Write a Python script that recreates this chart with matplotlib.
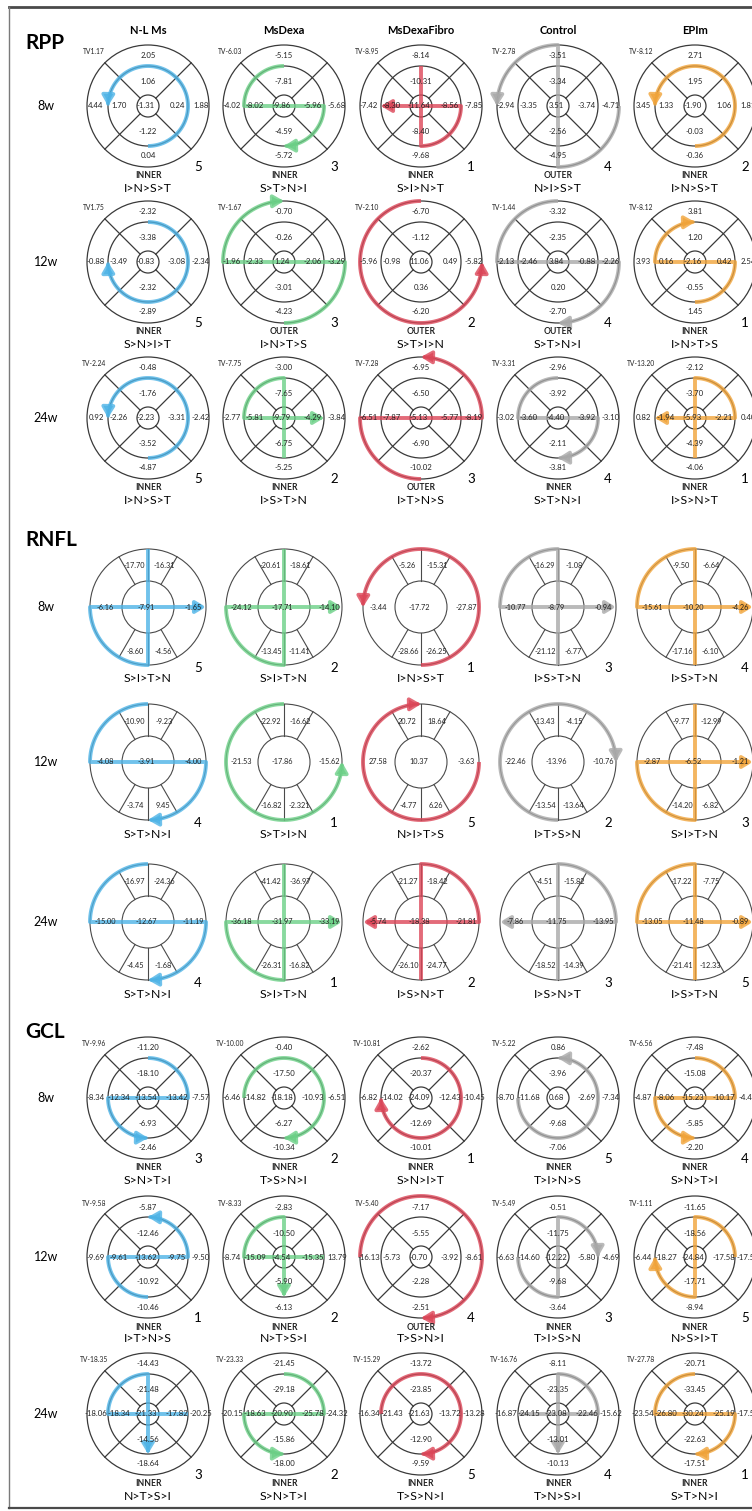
import numpy as np
import matplotlib.pyplot as plt
from matplotlib.patches import Circle, FancyArrowPatch
from matplotlib.path import Path

plt.rcParams['font.family'] = ['Lato', 'DejaVu Sans']

groups = ['N-L Ms', 'MsDexa', 'MsDexaFibro', 'Control', 'EPIm']
weeks = ['8w', '12w', '24w']

# RPP / GCL values per diagram:
# [S outer, S inner, T outer, T inner, center, N inner, N outer, I inner, I outer]
rpp_tv = [[1.17, -6.03, -8.95, -2.78, -8.12],
          [1.75, -1.67, -2.10, -1.44, -8.12],
          [-2.24, -7.75, -7.28, -3.31, -13.20]]
rpp_vals = [
    [[2.05, 1.06, 4.44, 1.70, -1.31, 0.24, 1.88, -1.22, 0.04],
     [-5.15, -7.81, -4.02, -8.02, -9.86, -5.96, -5.68, -4.59, -5.72],
     [-8.14, -10.31, -7.42, -8.30, -11.64, -8.56, -7.85, -8.40, -9.68],
     [-3.51, -3.34, -2.94, -3.35, 3.51, -3.74, -4.71, -2.56, -4.95],
     [2.71, 1.95, 3.45, 1.33, -1.90, 1.06, 1.81, -0.03, -0.36]],
    [[-2.32, -3.38, -0.88, -3.49, -0.83, -3.08, -2.34, -2.32, -2.89],
     [-0.70, -0.26, -1.96, -2.33, 1.24, -2.06, -3.29, -3.01, -4.23],
     [-6.70, -1.12, -5.96, -0.98, 11.06, 0.49, -5.82, 0.36, -6.20],
     [-3.32, -2.35, -2.13, -2.46, 3.84, -0.88, -2.26, 0.20, -2.70],
     [3.81, 1.20, 3.93, 0.16, -2.16, 0.42, 2.54, -0.55, 1.45]],
    [[-0.48, -1.76, 0.92, -2.26, -2.23, -3.31, -2.42, -3.52, -4.87],
     [-3.00, -7.65, -2.77, -5.81, -9.79, -4.29, -3.84, -6.75, -5.25],
     [-6.95, -6.50, -6.51, -7.87, -5.13, -5.77, -8.19, -6.90, -10.02],
     [-2.96, -3.92, -3.02, -3.60, -4.40, -3.92, -3.10, -2.11, -3.81],
     [-2.12, -3.70, 0.82, -1.94, -5.93, -2.21, 0.40, -4.39, -4.06]],
]
rpp_ring = [['INNER', 'INNER', 'INNER', 'OUTER', 'INNER'],
            ['INNER', 'OUTER', 'OUTER', 'OUTER', 'INNER'],
            ['INNER', 'INNER', 'OUTER', 'INNER', 'INNER']]
rpp_order = [['I>N>S>T', 'S>T>N>I', 'S>I>N>T', 'N>I>S>T', 'I>N>S>T'],
             ['S>N>I>T', 'I>N>T>S', 'S>T>I>N', 'S>T>N>I', 'I>N>T>S'],
             ['I>N>S>T', 'I>S>T>N', 'I>T>N>S', 'S>T>N>I', 'I>S>N>T']]
rpp_rank = [[5, 3, 1, 4, 2], [5, 3, 2, 4, 1], [5, 2, 3, 4, 1]]

# RNFL values per diagram:
# [S temporal, S nasal, T, center, N, I temporal, I nasal]
rnfl_vals = [
    [[-17.70, -16.31, -6.16, -7.91, -1.65, -8.60, -4.56],
     [-20.61, -18.61, -24.12, -17.71, -14.10, -13.45, -11.41],
     [-5.26, -15.31, -3.44, -17.72, -27.87, -28.66, -26.25],
     [-16.29, -1.08, -10.77, -8.79, -0.94, -21.12, -6.77],
     [-9.50, -6.64, -15.61, -10.20, -4.26, -17.16, -6.10]],
    [[-10.90, -9.23, -4.08, -3.91, -4.00, -3.74, 9.45],
     [-22.92, -16.62, -21.53, -17.86, -15.62, -16.82, -2.321],
     [20.72, 18.64, 27.58, 10.37, -3.63, -4.77, 6.26],
     [-13.43, -4.15, -22.46, -13.96, -10.76, -13.54, -13.64],
     [-9.77, -12.99, -2.87, -6.52, -1.21, -14.20, -6.82]],
    [[-16.97, -24.36, -15.00, -12.67, -11.19, -4.45, -1.68],
     [-41.42, -36.97, -36.18, -31.97, -33.19, -26.31, -16.82],
     [-21.27, -18.42, -5.74, -18.38, -21.81, -26.10, -24.77],
     [-4.51, -15.82, -7.86, -11.75, -13.95, -18.52, -14.39],
     [-17.22, -7.75, -13.05, -11.48, -0.89, -21.41, -12.33]],
]
rnfl_order = [['S>I>T>N', 'S>I>T>N', 'I>N>S>T', 'I>S>T>N', 'I>S>T>N'],
              ['S>T>N>I', 'S>T>I>N', 'N>I>T>S', 'I>T>S>N', 'S>I>T>N'],
              ['S>T>N>I', 'S>I>T>N', 'I>S>N>T', 'I>S>N>T', 'I>S>T>N']]
rnfl_rank = [[5, 2, 1, 3, 4], [4, 1, 5, 2, 3], [4, 1, 2, 3, 5]]

gcl_tv = [[-9.96, -10.00, -10.81, -5.22, -6.56],
          [-9.58, -8.33, -5.40, -5.49, -1.11],
          [-18.35, -23.33, -15.29, -16.76, -27.78]]
gcl_vals = [
    [[-11.20, -18.10, -8.34, -12.34, -13.54, -13.42, -7.57, -6.93, -2.46],
     [-0.40, -17.50, -6.46, -14.82, -18.18, -10.93, -6.51, -6.27, -10.34],
     [-2.62, -20.37, -6.82, -14.02, -24.09, -12.43, -10.45, -12.69, -10.01],
     [0.86, -3.96, -8.70, -11.68, 0.68, -2.69, -7.34, -9.68, -7.06],
     [-7.48, -15.08, -4.87, -8.06, -15.23, -10.17, -4.45, -5.85, -2.20]],
    [[-5.87, -12.46, -9.69, -9.61, -13.62, -9.75, -9.50, -10.92, -10.46],
     [-2.83, -10.50, -8.74, -15.09, -4.54, -15.35, 13.79, -5.90, -6.13],
     [-7.17, -5.55, -16.13, -5.73, -0.70, -3.92, -8.61, -2.28, -2.51],
     [-0.51, -11.75, -6.63, -14.60, -12.22, -5.80, -4.69, -9.68, -3.64],
     [-11.65, -18.56, -6.44, -18.27, -24.84, -17.58, -17.55, -17.71, -8.94]],
    [[-14.43, -21.48, -18.06, -18.34, -21.33, -17.82, -20.25, -14.56, -18.64],
     [-21.45, -29.18, -20.15, -18.63, -20.90, -25.78, -24.32, -15.86, -18.00],
     [-13.72, -23.85, -16.34, -21.43, -21.63, -13.72, -13.28, -12.90, -9.59],
     [-8.11, -23.35, -16.87, -24.15, -23.08, -22.46, -15.62, -13.01, -10.13],
     [-20.71, -33.45, -23.54, -26.80, -30.24, -25.19, -17.55, -22.63, -17.51]],
]
gcl_ring = [['INNER'] * 5,
            ['INNER', 'INNER', 'OUTER', 'INNER', 'INNER'],
            ['INNER'] * 5]
gcl_order = [['S>N>T>I', 'T>S>N>I', 'S>N>I>T', 'T>I>N>S', 'S>N>T>I'],
             ['I>T>N>S', 'N>T>S>I', 'T>S>N>I', 'T>I>S>N', 'N>S>I>T'],
             ['N>T>S>I', 'S>N>T>I', 'T>S>N>I', 'T>N>S>I', 'S>T>N>I']]
gcl_rank = [[3, 2, 1, 5, 4], [1, 2, 4, 3, 5], [3, 2, 5, 4, 1]]

# ---- layout / style ----
W, H = 752, 1511
col_x = [148, 284, 421, 558, 695]
rpp_y = [106, 262, 418]
rnfl_y = [607, 762, 922]
gcl_y = [1098, 1257, 1414]
colors = ['#4db3e6', '#6cd087', '#dc4658', '#a9a9a9', '#f1a43a']
line_c = '#3a3a3a'
side_angle = {'N': 0, 'S': 90, 'T': 180, 'I': 270}

fig = plt.figure(figsize=(W / 100, H / 100), dpi=100)
ax = fig.add_axes([0, 0, 1, 1])
ax.set_xlim(0, W)
ax.set_ylim(H, 0)
ax.axis('off')


def fmt(v):
    if abs(v * 100 - round(v * 100)) < 1e-6:
        return f"{v:.2f}"
    return f"{v:g}"


def pt(cx, cy, r, a):
    return cx + r * np.cos(np.radians(a)), cy - r * np.sin(np.radians(a))


def draw_arrow(cx, cy, r, order, color):
    sides = order.split('>')
    verts = []
    for a, b in zip(sides[:-1], sides[1:]):
        a0, a1 = side_angle[a], side_angle[b]
        d = (a1 - a0 + 180) % 360 - 180
        if abs(d) == 180:
            p0 = np.array(pt(cx, cy, r, a0))
            p1 = np.array(pt(cx, cy, r, a1))
            seg = [p0 + (p1 - p0) * t for t in np.linspace(0, 1, 25)]
        else:
            seg = [pt(cx, cy, r, t) for t in np.linspace(a0, a0 + d, 30)]
        if verts:
            seg = seg[1:]
        verts.extend(seg)
    arr = FancyArrowPatch(path=Path(np.array(verts)),
                          arrowstyle='-|>,head_length=0.6,head_width=0.36',
                          mutation_scale=10, lw=2.8, color=color, alpha=0.8,
                          capstyle='butt', joinstyle='round', zorder=2)
    ax.add_patch(arr)


def ring_diagram(cx, cy, vals, tv, ring, order, rank, color):
    r_out, r_mid, r_in = 61, 40, 11
    for r in (r_out, r_mid, r_in):
        ax.add_patch(Circle((cx, cy), r, fill=False, ec=line_c, lw=0.9, zorder=1))
    for a in (45, 135, 225, 315):
        x0, y0 = pt(cx, cy, r_in, a)
        x1, y1 = pt(cx, cy, r_out, a)
        ax.plot([x0, x1], [y0, y1], color=line_c, lw=0.9, zorder=1)
    draw_arrow(cx, cy, r_mid if ring == 'INNER' else r_out, order, color)
    offs = [(0, -50), (0, -24), (-52, 0), (-29, 0), (-2, 0),
            (29, 0), (53, 0), (0, 25), (0, 50)]
    for (dx, dy), v in zip(offs, vals):
        ax.text(cx + dx, cy + dy, fmt(v), ha='center', va='center',
                fontsize=5.6, color='#222222', zorder=3)
    ax.text(cx - 54, cy - 54, f"TV{tv:.2f}", ha='center', va='center',
            fontsize=4.9, color='#222222', zorder=3)
    ax.text(cx + 50, cy + 61, str(rank), ha='center', va='center', fontsize=9.5)
    ax.text(cx, cy + 70, ring, ha='center', va='center', fontsize=6.2,
            fontweight='bold', color='#222222')
    ax.text(cx, cy + 82, order, ha='center', va='center', fontsize=8.8)


def rnfl_diagram(cx, cy, vals, order, rank, color):
    r_out, r_in = 58, 26
    for r in (r_out, r_in):
        ax.add_patch(Circle((cx, cy), r, fill=False, ec='#4a4a4a', lw=0.8, zorder=1))
    for a in (60, 90, 120, 240, 270, 300):
        x0, y0 = pt(cx, cy, r_in, a)
        x1, y1 = pt(cx, cy, r_out, a)
        ax.plot([x0, x1], [y0, y1], color='#4a4a4a', lw=0.8, zorder=1)
    draw_arrow(cx, cy, r_out, order, color)
    offs = [(-14, -41), (16, -41), (-43, 0), (-2, 0), (45, 0), (-13, 44), (15, 44)]
    for (dx, dy), v in zip(offs, vals):
        ax.text(cx + dx, cy + dy, fmt(v), ha='center', va='center',
                fontsize=5.3, color='#222222', zorder=3)
    ax.text(cx + 50, cy + 61, str(rank), ha='center', va='center', fontsize=9.5)
    ax.text(cx, cy + 72, order, ha='center', va='center', fontsize=8.8)


# frame
ax.plot([9, W], [7, 7], color='#4a4a4a', lw=2.0)
ax.plot([9, 9], [7, 1508], color='#7a7a7a', lw=1.0)
ax.plot([9, W], [1508, 1508], color='#4a4a4a', lw=1.6)

# headers
for j, g in enumerate(groups):
    ax.text(col_x[j], 31, g, ha='center', va='center', fontsize=8, fontweight='bold')

for name, ty in (('RPP', 43), ('RNFL', 540), ('GCL', 1032)):
    ax.text(25, ty, name, ha='left', va='center', fontsize=15, fontweight='bold')

for i, w in enumerate(weeks):
    for ys in (rpp_y, rnfl_y, gcl_y):
        ax.text(46, ys[i], w, ha='center', va='center', fontsize=9)
    for j in range(len(groups)):
        ring_diagram(col_x[j], rpp_y[i], rpp_vals[i][j], rpp_tv[i][j],
                     rpp_ring[i][j], rpp_order[i][j], rpp_rank[i][j], colors[j])
        rnfl_diagram(col_x[j], rnfl_y[i], rnfl_vals[i][j],
                     rnfl_order[i][j], rnfl_rank[i][j], colors[j])
        ring_diagram(col_x[j], gcl_y[i], gcl_vals[i][j], gcl_tv[i][j],
                     gcl_ring[i][j], gcl_order[i][j], gcl_rank[i][j], colors[j])

fig.savefig('out.png', dpi=100)
